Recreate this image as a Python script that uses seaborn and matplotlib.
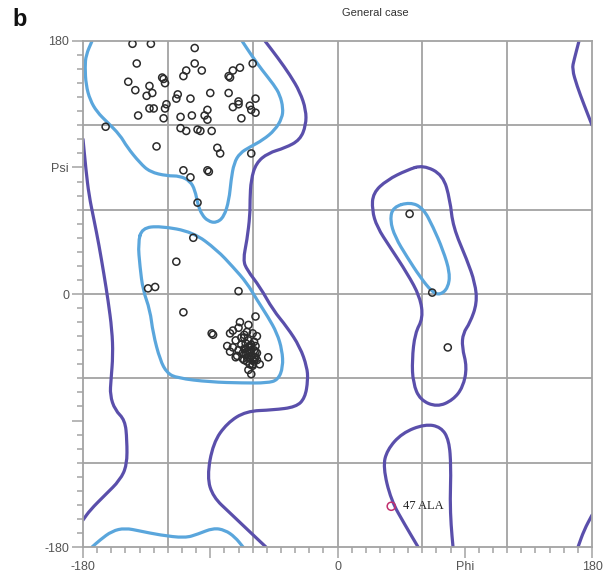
import matplotlib
matplotlib.use("Agg")
import matplotlib.pyplot as plt
from matplotlib.path import Path
from matplotlib.patches import PathPatch
import seaborn as sns
import pandas as pd

# residue dihedrals (phi, psi)
phi_beta = [-145, -132, -101, -142, -101, -107, -96, -74, -69, -60, -77, -76, -124, -123, -122,
            -109, -148, -133, -143, -131, -135, -113, -114, -104, -90, -77, -58, -70, -70, -74,
            -62, -61, -58, -133, -130, -122, -121, -141, -123, -111, -103, -92, -94, -92, -68,
            -164, -111, -107, -99, -97, -89, -128, -85, -83, -61, -109, -104, -92, -91, -99, -102]
psi_beta = [178, 178, 175, 164, 164, 159, 159, 159, 161, 164, 155, 154, 154, 153, 150,
            155, 151, 148, 145, 143, 141, 142, 139, 139, 143, 143, 139, 137, 135, 133,
            134, 131, 129, 132, 132, 132, 135, 127, 125, 126, 127, 131, 127, 124, 125,
            119, 118, 116, 117, 116, 116, 105, 104, 100, 100, 88, 83, 88, 87, 65, 40]

phi_alpha = [-114, -134, -129, -70, -109, -89, -88, -58, -69, -63, -70, -74, -76, -60, -64,
             -78, -76, -72, -49, -55, -63, -60, -61,
             -66, -68, -68, -72, -66, -57, -74, -70, -66, -71]
psi_alpha = [23, 4, 5, 2, -13, -28, -29, -16, -20, -22, -24, -26, -28, -28, -27,
             -37, -41, -45, -45, -50, -54, -51, -57,
             -29, -31, -36, -33, -31, -30, -38, -40, -47, -44]

# tight helical cluster (drawn as a dark blob)
phi_blob = [-62, -63, -61, -59, -65, -62, -58, -66, -61, -64, -59, -57, -65, -62, -59, -64,
            -61, -58, -67, -62, -59, -65, -57, -62, -67, -60, -64, -58, -63, -60]
psi_blob = [-41, -38, -44, -40, -43, -46, -45, -39, -36, -48, -48, -42, -35, -37, -34, -45,
            -40, -37, -46, -50, -45, -39, -47, -42, -42, -47, -41, -41, -33, -50]

phi_left = [51, 67, 78]
psi_left = [57, 1, -38]

outlier_phi = [38]
outlier_psi = [-151]
outlier_label = "47 ALA"

# core region contours (light blue)
core1_phi = [-173.6, -177.9, -178.6, -177.9, -175, -170.1, -163, -153.8, -148.9, -139.7, -132.6,
             -120.6, -111.4, -104.3, -100.8, -98.7, -95.8, -91.6, -85.9, -80.3, -76.7, -75.3,
             -73.2, -69, -61.9, -52.7, -44.2, -39.2, -38.5, -40.7, -44.9, -53.4, -60.5, -67.5]
core1_psi = [180, 170, 161.6, 148.7, 138, 129.5, 122.4, 113.1, 104.6, 93.2, 86.8,
             84, 84, 80.4, 74, 63.3, 56.2, 51.9, 50.5, 54.8, 66.9, 81.1,
             93.2, 100.3, 104.6, 109.6, 116.7, 125.2, 132.3, 141.6, 148.7, 159.4, 169.3, 180]
core1b_phi = [-173.6, -168, -159.5, -150.3, -139.7, -125.5, -107.9, -98.7, -88, -79.6, -72.5, -66.8]
core1b_psi = [-180, -175, -168.6, -166.5, -168.6, -171.5, -173.6, -170.8, -166.5, -167.9, -172.9, -180]
core2_phi = [-138.3, -125.5, -102.2, -85.2, -73.9, -64, -56.9, -49.1, -42.8, -39.2, -38.5, -42.1,
             -49.9, -66.8, -90.2, -113.5, -120.6, -125.5, -130.5, -132.6, -137.6, -139.7, -141.1]
core2_psi = [46.9, 48.4, 44.1, 31.3, 19.2, 7.8, -4.3, -16.4, -27.8, -39.9, -51.9, -61.2,
             -63.3, -63.3, -62.6, -59.8, -56.2, -47, -27.8, -11.4, 2.8, 19.2, 36.3]
core3_phi = [51.3, 60.5, 67.6, 74.6, 79.6, 78.2, 72.5, 66.9, 58.4, 49.2, 40.7, 37.1, 39.3]
core3_psi = [65.4, 61.2, 47.7, 31.3, 14.9, 4.3, -0.7, 1.4, 12.1, 26.3, 40.5, 52.6, 61.9]

# allowed region contours (purple)
allow1_phi = [-180, -177.9, -175.8, -172.2, -168.7, -165.1, -162.3, -159.5, -158.8, -160.2, -160.9,
              -157.4, -150.3, -148.9, -148.9, -153.8, -164.4, -175, -180]
allow1_psi = [110.1, 88.2, 70.4, 52.6, 34.8, 13.5, -4.3, -25.6, -43.4, -61.2, -71.9,
              -82.5, -89.7, -103.9, -121.7, -132.4, -143, -153.7, -160.8]
allow2_phi = [-51.3, -42.1, -33.6, -26.5, -22.3, -22.3, -26.5, -37.1, -49.1, -57.6, -61.2, -61.9,
              -61.9, -64, -66.8, -64, -54.8, -45.6, -35.7, -26.5, -21.6, -20.9, -23, -29.3,
              -45.6, -64.7, -78.1, -88, -92.3, -88, -76, -61.9, -50.6]
allow2_psi = [180, 167.9, 155.8, 143.7, 130.9, 120.2, 109.6, 103.9, 100.3, 93.2, 81.1, 66.9,
              56.2, 38.4, 24.2, 17.1, 5, -11.4, -23.5, -37.7, -51.9, -61.2, -74, -80.4,
              -82.5, -83.3, -91.8, -106, -130.2, -144.4, -155.8, -169.3, -180]
allow3_phi = [60.5, 74.6, 79.6, 81.7, 91.6, 97.3, 98.7, 93.7, 88.8, 88, 91.6, 88.8, 81.7, 70.4,
              58.4, 53.4, 52.7, 54.8, 60.5, 58.4, 49.2, 37.1, 27.9, 24.4, 25.1, 35, 49.2]
allow3_psi = [91.8, 84.7, 66.9, 47.7, 24.2, 7.8, -6.4, -20.6, -27.8, -37.7, -51.9, -66.2, -75.4, -80.4,
              -75.4, -63.3, -47, -27.8, -17.1, -2.1, 14.9, 33.4, 47.7, 59.8, 71.9, 81.1, 88.2]
allow4_phi = [57, 47.8, 37.8, 32.2, 35, 45.6, 61.9, 73.2, 78.9, 80.3, 79.6, 80.3, 81.7]
allow4_psi = [-180, -164.4, -146.6, -123.1, -111, -98.9, -92.5, -94.6, -103.9, -123.1, -146.6, -164.4, -180]
allow5_phi = [170.8, 167.3, 165.9, 169.4, 174.4, 180]
allow5_psi = [180, 166.5, 160.1, 148, 134.5, 120.2]
allow6_phi = [170.1, 174.4, 180]
allow6_psi = [-180, -167.9, -157.3]

core_color = "#5aa6dc"
allow_color = "#5a4fab"
grid_color = "#a3a3a3"


def smooth_path(xs, ys, closed=False):
    # quadratic bezier through midpoints, vertices act as control points
    pts = list(zip(xs, ys))
    mids = [((pts[i][0] + pts[i + 1][0]) / 2, (pts[i][1] + pts[i + 1][1]) / 2) for i in range(len(pts) - 1)]
    if closed:
        last_mid = ((pts[-1][0] + pts[0][0]) / 2, (pts[-1][1] + pts[0][1]) / 2)
        verts = [last_mid]
        codes = [Path.MOVETO]
        for i in range(len(pts)):
            nxt = mids[i] if i < len(mids) else last_mid
            verts += [pts[i], nxt]
            codes += [Path.CURVE3, Path.CURVE3]
    else:
        verts = [pts[0], mids[0]]
        codes = [Path.MOVETO, Path.LINETO]
        for i in range(1, len(pts) - 1):
            verts += [pts[i], mids[i]]
            codes += [Path.CURVE3, Path.CURVE3]
        verts.append(pts[-1])
        codes.append(Path.LINETO)
    return Path(verts, codes)


sns.set_style("white")
plt.rcParams['font.family'] = ['Liberation Sans', 'DejaVu Sans']

fig = plt.figure(figsize=(6.09, 5.83), dpi=100)
ax = fig.add_axes([0.1363, 0.0617, 0.8358, 0.868])

for v in [-120, -60, 0, 60, 120]:
    ax.axvline(v, color=grid_color, lw=1.3, zorder=0)
    ax.axhline(v, color=grid_color, lw=1.3, zorder=0)

allowed = [(allow1_phi, allow1_psi, False), (allow2_phi, allow2_psi, False), (allow3_phi, allow3_psi, True),
           (allow4_phi, allow4_psi, False), (allow5_phi, allow5_psi, False), (allow6_phi, allow6_psi, False)]
core = [(core1_phi, core1_psi, False), (core1b_phi, core1b_psi, False), (core2_phi, core2_psi, True),
        (core3_phi, core3_psi, True)]
for xs, ys, closed in allowed:
    ax.add_patch(PathPatch(smooth_path(xs, ys, closed), fill=False, edgecolor=allow_color,
                           lw=2.3, capstyle="round", joinstyle="round", zorder=1))
for xs, ys, closed in core:
    ax.add_patch(PathPatch(smooth_path(xs, ys, closed), fill=False, edgecolor=core_color,
                           lw=2.3, capstyle="round", joinstyle="round", zorder=2))

pts = pd.DataFrame({
    "phi": phi_beta + phi_alpha + phi_blob + phi_left,
    "psi": psi_beta + psi_alpha + psi_blob + psi_left,
})
sns.scatterplot(data=pts, x="phi", y="psi", ax=ax, marker="o", s=26,
                facecolors="none", edgecolor="#2b2b2b", linewidth=1.1, zorder=3)
sns.scatterplot(x=outlier_phi, y=outlier_psi, ax=ax, marker="o", s=34,
                facecolors="none", edgecolor="#c2306e", linewidth=1.1, zorder=3)
ax.text(outlier_phi[0] + 8, outlier_psi[0], outlier_label, family="Liberation Serif",
        fontsize=9, color="#222222", ha="left", va="center")

ax.set_xlim(-180, 180)
ax.set_ylim(-180, 180)
ax.set_xticks([-180, -90, 0, 90, 180], ["-180", "", "0", "Phi", "180"])
ax.set_yticks([-180, -90, 0, 90, 180], ["-180", "", "0", "Psi", "180"])
ax.set_xticks(range(-180, 181, 10), minor=True)
ax.set_yticks(range(-180, 181, 10), minor=True)
ax.tick_params(which="major", direction="out", length=8, width=1.1, color=grid_color,
               labelsize=9, labelcolor="#555555", left=True, bottom=True, pad=2)
ax.tick_params(which="minor", direction="out", length=4.5, width=1.1, color=grid_color,
               left=True, bottom=True)
for spine in ax.spines.values():
    spine.set_color(grid_color)
    spine.set_linewidth(1.3)
ax.set_xlabel("")
ax.set_ylabel("")

fig.text(375 / 609, 1 - 13 / 583, "General case", fontsize=8, color="#333333", ha="center", va="center")
fig.text(12 / 609, 1 - 19 / 583, "b", fontsize=17, fontweight="bold", color="#111111", ha="left", va="center")

plt.savefig("out.png", dpi=100)
